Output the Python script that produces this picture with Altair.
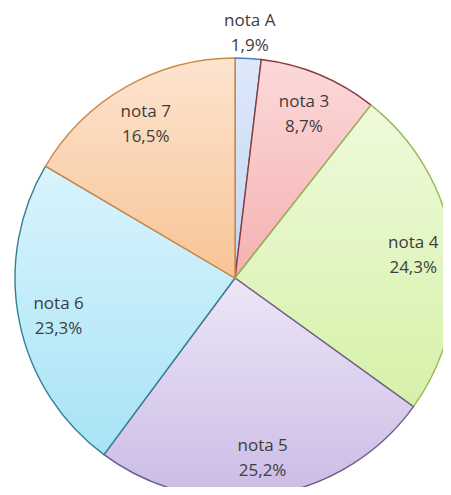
import altair as alt
import pandas as pd

cats = ["nota A", "nota 3", "nota 4", "nota 5", "nota 6", "nota 7"]
vals = [1.9, 8.7, 24.3, 25.2, 23.3, 16.5]
fill_top = ["#dde8fa", "#fcd9d9", "#effadc", "#ede6f7", "#d9f4fc", "#fde4cf"]
fill_bot = ["#c3d6f2", "#f5b1b1", "#d5f1a8", "#cbbbe5", "#a8e3f6", "#f8c496"]
strokes = ["#4a7ebb", "#8b3a3a", "#98b954", "#6f5a8e", "#357f96", "#c98a4b"]

df = pd.DataFrame({"cat": cats, "v": vals, "order": list(range(len(cats)))})

CX, CY, R = 227, 270, 220

base = (
    alt.Chart(df)
    .transform_window(cum="sum(v)", sort=[alt.SortField("order")], frame=[None, 0])
    .transform_joinaggregate(total="sum(v)")
    .transform_calculate(
        t0="(datum.cum - datum.v) / datum.total",
        t1="datum.cum / datum.total",
        mid="(datum.cum - datum.v / 2) / datum.total",
        label="[datum.cat, replace(format(datum.v, '.1f'), '.', ',') + '%']",
    )
)

theta_scale = alt.Scale(domain=[0, 1])
layers = []
for i, c in enumerate(cats):
    grad = alt.Gradient(
        gradient="linear",
        stops=[
            alt.GradientStop(color=fill_top[i], offset=0),
            alt.GradientStop(color=fill_bot[i], offset=1),
        ],
        x1=0, x2=0, y1=0, y2=1,
    )
    layers.append(
        base.transform_filter(alt.datum.cat == c)
        .mark_arc(fill=grad, stroke=strokes[i], strokeWidth=1.4, outerRadius=R)
        .encode(
            theta=alt.Theta("t0:Q", scale=theta_scale),
            theta2="t1:Q",
            x=alt.value(CX),
            y=alt.value(CY),
        )
    )

text_style = dict(font="Open Sans", fontSize=17, color="#3d3d3d", lineHeight=25,
                  align="center", baseline="middle", dy=-10)

text_inner = (
    base.transform_filter(alt.datum.cat != "nota A")
    .mark_text(**text_style)
    .encode(
        theta=alt.Theta("mid:Q", scale=theta_scale),
        radius=alt.value(180),
        text="label:N",
        x=alt.value(CX),
        y=alt.value(CY),
    )
)
text_outer = (
    base.transform_filter(alt.datum.cat == "nota A")
    .mark_text(**text_style)
    .encode(
        theta=alt.Theta("mid:Q", scale=theta_scale),
        radius=alt.value(247),
        text="label:N",
        x=alt.value(CX),
        y=alt.value(CY),
    )
)

chart = (
    alt.layer(*layers, text_inner, text_outer)
    .properties(width=435, height=479, padding=0, autosize="none")
    .configure_view(stroke=None)
)

chart.save("out.html", embed_options={"renderer": "svg", "actions": False})
